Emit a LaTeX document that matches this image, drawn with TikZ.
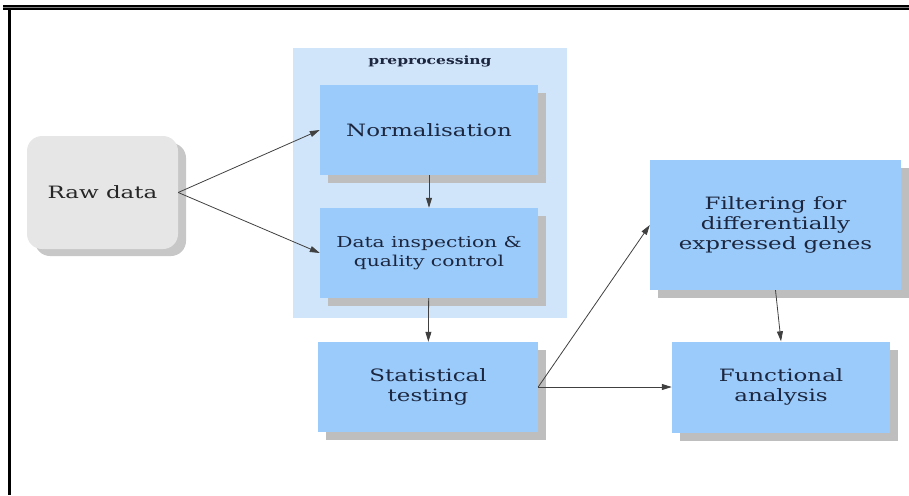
\documentclass[tikz,border=0pt]{standalone}
\usepackage{fontspec}
\setmainfont{DejaVu Serif}[FakeStretch=1.35]
\usepackage{tikz}
\usetikzlibrary{
  shadows,
  arrows.meta}
\definecolor{boxblue}{RGB}{155,203,250}
\definecolor{clusterblue}{RGB}{208,229,250}
\definecolor{shadowgray}{RGB}{190,190,190}
\definecolor{rawgray}{RGB}{230,230,230}
\definecolor{inkblue}{RGB}{28,38,62}

\begin{document}
\begin{tikzpicture}[x=1pt,y=-1pt,
  stage/.style={fill=boxblue, minimum width=218pt, minimum height=90pt,
    align=center, inner sep=0pt, text=inkblue, font=\fontsize{17}{19.5}\selectfont,
    drop shadow={shadow xshift=8pt,shadow yshift=-8pt,opacity=1,fill=shadowgray}},
  link/.style={-{Triangle[length=10pt,width=6pt]}, draw=black!75, line width=0.8pt}]
\useasboundingbox (0,0) rectangle (909,495);
% frame
\draw[line width=4.5pt] (3,7.3) -- (909,7.3);
\draw[line width=0.9pt,gray] (3,7.3) -- (909,7.3);
\draw[line width=2.5pt] (9.5,9) -- (9.5,495);
% preprocessing cluster
\node[fill=clusterblue, minimum width=274pt, minimum height=270pt] (prep) at (430,183) {};
\node[text=inkblue, font=\fontsize{11.5}{13}\selectfont\bfseries] (preplabel) at (430,61) {preprocessing};
% steps
\node[fill=rawgray, rounded corners=15pt, minimum width=151pt, minimum height=113pt,
  text=black!85, font=\fontsize{17}{20}\selectfont,
  drop shadow={shadow xshift=8pt,shadow yshift=-7pt,opacity=1,fill=rawgray!70!gray}] (raw) at (102.5,192.5) {Raw data};
\node[stage, font=\fontsize{17}{20}\selectfont] (norm) at (429,130) {Normalisation};
\node[stage, font=\fontsize{15}{18.5}\selectfont] (insp) at (429,253) {Data inspection \&\\quality control};
\node[stage, minimum width=220pt] (stat) at (428,387) {Statistical\\testing};
\node[stage, minimum width=251pt, minimum height=130pt, font=\fontsize{17}{20}\selectfont] (filt) at (775.5,225) {Filtering for\\differentially\\expressed genes};
\node[stage, minimum height=91pt] (func) at (781,387) {Functional\\analysis};
% edges
\draw[link] (raw.east) -- (norm.west);
\draw[link] (raw.east) -- (insp.west);
\draw[link] (norm) -- (insp);
\draw[link] (insp) -- (stat);
\draw[link] (stat.east) -- (filt.west);
\draw[link] (stat.east) -- (func.west);
\draw[link] (filt.south) -- (func.north);
\end{tikzpicture}
\end{document}
